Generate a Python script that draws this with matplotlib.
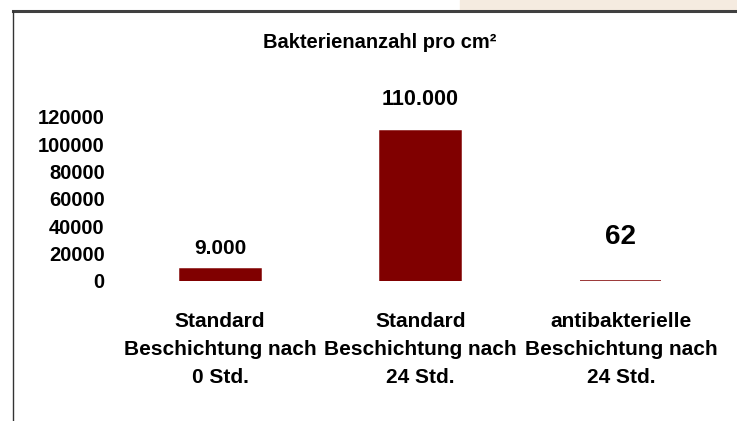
import matplotlib.pyplot as plt
from matplotlib.patches import Rectangle
from matplotlib.lines import Line2D

categories = ["Standard\nBeschichtung nach\n0 Std.",
              "Standard\nBeschichtung nach\n24 Std.",
              "antibakterielle\nBeschichtung nach\n24 Std."]
values = [9000, 110000, 62]
value_labels = ["9.000", "110.000", "62"]
yticks = [0, 20000, 40000, 60000, 80000, 100000, 120000]

plt.rcParams['font.family'] = ['Liberation Sans', 'DejaVu Sans']
plt.rcParams['font.weight'] = 'bold'

W, H = 737, 421
fig = plt.figure(figsize=(W / 100, H / 100), dpi=100)

# slide decoration
fig.patches.append(Rectangle((460 / W, 1 - 10 / H), 1, 10 / H, transform=fig.transFigure,
                             color='#f5ebe0', zorder=0))
fig.add_artist(Line2D([13 / W, 1], [1 - 11 / H, 1 - 11 / H], color='#404040', lw=2.2))
fig.add_artist(Line2D([13 / W, 13 / W], [0, 1 - 11 / H], color='#333333', lw=1))

ax = fig.add_axes([120 / W, 1 - 281 / H, 601 / W, 164 / H])
x = range(len(values))
ax.bar(x, values, width=0.405, color='#800000', edgecolor='#800000', linewidth=1.1)
ax.set_xlim(-0.5, 2.5)
ax.set_ylim(0, 120000)
ax.set_yticks(yticks)
ax.set_yticklabels([str(t) for t in yticks], fontsize=14.5, fontweight='bold')
ax.set_xticks(list(x))
ax.set_xticklabels(categories, fontsize=15, fontweight='bold', linespacing=1.62)
ax.tick_params(axis='y', length=0, pad=11)
ax.tick_params(axis='x', length=0, pad=22)
for s in ax.spines.values():
    s.set_visible(False)

offsets = [8, 15, 22]
sizes = [15, 15.5, 20]
for i, (v, lab) in enumerate(zip(values, value_labels)):
    ax.annotate(lab, (i, v), xytext=(0, offsets[i]), textcoords='offset points',
                ha='center', va='bottom', fontsize=sizes[i], fontweight='bold')

fig.text(380 / W, 1 - 42 / H, "Bakterienanzahl pro cm²", ha='center', va='center',
         fontsize=14.5, fontweight='bold')

fig.savefig('out.png', dpi=100)
